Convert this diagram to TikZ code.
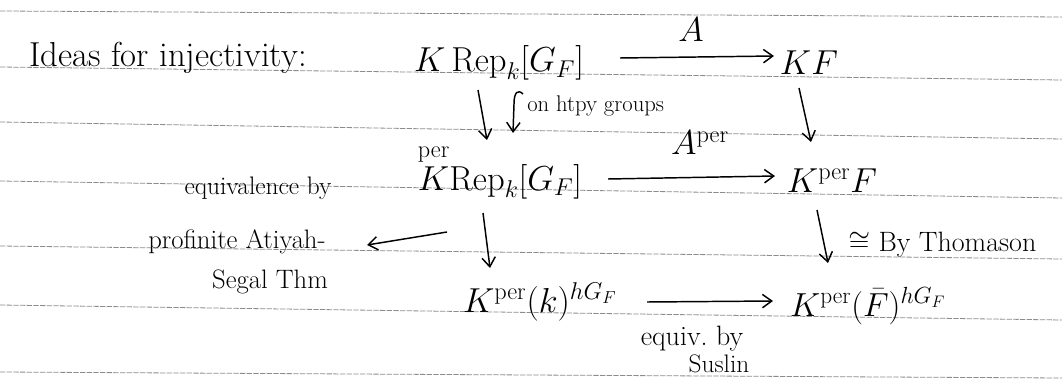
\RequirePackage{fix-cm}
\documentclass[tikz,border=0pt]{standalone}
\usepackage{amsmath}
\usetikzlibrary{arrows.meta,calc}
\tikzset{
  ruled/.style={draw=black!45, line width=0.6pt, dash pattern=on 4pt off 1pt},
  big/.style={inner sep=0pt, anchor=base, font=\fontsize{26}{30}\selectfont},
  mid/.style={inner sep=0pt, anchor=base, font=\fontsize{19}{22}\selectfont},
  small/.style={inner sep=0pt, anchor=base, font=\fontsize{17}{20}\selectfont},
  hand/.style={line width=1.1pt, -{Straight Barb[length=7pt,width=10pt]}},
}
\begin{document}
\begin{tikzpicture}[x=0.75pt,y=-0.75pt]
\useasboundingbox[fill=white] (0,0) rectangle (1062,392);
% ruled lines of the paper
\draw[ruled] (0,11) -- (1062,17);
\draw[ruled] (0,67) -- (1062,80);
\draw[ruled] (0,122) -- (1062,139);
\draw[ruled] (0,181) -- (1062,198);
\draw[ruled] (0,246) -- (1062,259);
\draw[ruled] (0,305) -- (1062,320);
\draw[ruled] (0,372) -- (1062,378);

% title
\node[big] (title) at (168,67) {Ideas for injectivity:};

% diagram objects
\node[big] (krep) at (499,72) {$K\,\mathrm{Rep}_k[G_F]$};
\node[big] (kf) at (809,75) {$KF$};
\node[big] (kprep) at (500,190) {$\overset{\mathrm{per}}{K}\mathrm{Rep}_k[G_F]$};
\node[big] (kpf) at (832,192) {$K^{\mathrm{per}}F$};
\node[big] (kpk) at (540,312) {$K^{\mathrm{per}}(k)^{hG_F}$};
\node[big, font=\fontsize{25}{30}\selectfont] (kpfbar) at (868,316) {$K^{\mathrm{per}}(\bar F)^{hG_F}$};

% labels
\node[big] (lA) at (691,42) {$A$};
\node[big] (lAper) at (700,155) {$A^{\mathrm{per}}$};
\node[small, anchor=base west] (htpy) at (527,112) {on htpy groups};
\node[mid] (equiv1) at (258,194) {equivalence by};
\node[mid, font=\fontsize{20}{24}\selectfont] (prof) at (237,248) {profinite Atiyah-};
\node[mid, font=\fontsize{20}{24}\selectfont] (segal) at (270,288) {Segal Thm};
\node[mid, anchor=base west, font=\fontsize{21}{25}\selectfont] (thom) at (848,251) {$\cong$ By Thomason};
\node[mid, font=\fontsize{21}{25}\selectfont] (equiv2) at (692,345) {equiv.\ by};
\node[mid] (suslin) at (719,372) {Suslin};

% connectors
\draw[hand] ($(krep.base)+(121,-14)$) -- ($(kf.base)+(-35,-19)$);
\draw[hand] ($(krep.base)+(-21,18)$) -- ($(kprep.base)+(-13,-50)$);
\coordinate (sq) at ($(krep.base)+(24,22)$);
\draw[hand] (sq) .. controls ($(sq)+(-5,-5)$) and ($(sq)+(-9,-2)$) .. ($(sq)+(-9,10)$) -- ($(kprep.base)+(13,-57)$);
\draw[hand] ($(kf.base)+(-10,13)$) -- ($(kpf.base)+(-21,-50)$);
\draw[hand] ($(kprep.base)+(108,-11)$) -- ($(kpf.base)+(-57,-16)$);
\draw[hand] ($(kprep.base)+(-53,42)$) -- ($(prof.base)+(130,-3)$);
\draw[hand] ($(kprep.base)+(-17,23)$) -- ($(kpk.base)+(-50,-44)$);
\draw[hand] ($(kpf.base)+(-15,18)$) -- ($(kpfbar.base)+(-40,-53)$);
\draw[hand] ($(kpk.base)+(107,-10)$) -- ($(kpfbar.base)+(-95,-15)$);
\end{tikzpicture}
\end{document}
